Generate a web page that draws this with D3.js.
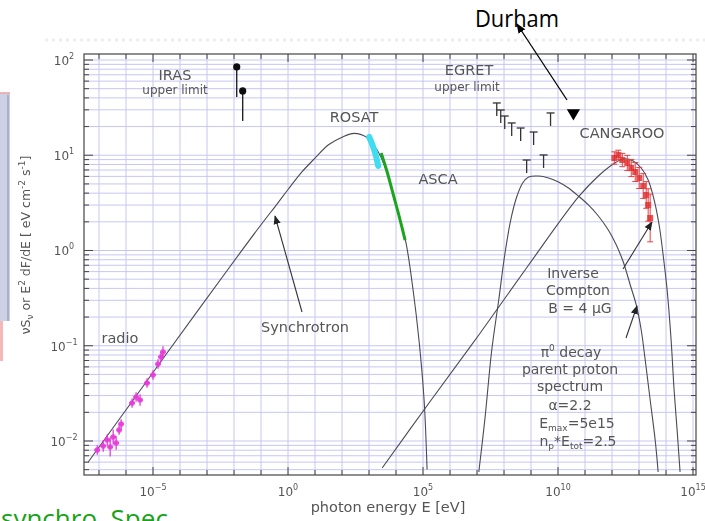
<!DOCTYPE html>
<html>
<head>
<meta charset="utf-8">
<script src="https://cdn.jsdelivr.net/npm/d3@7"></script>
<style>
  html, body { margin: 0; padding: 0; background: #fff; }
  svg { display: block; }
</style>
</head>
<body>
<svg id="chart" width="705" height="521"></svg>
<script>
// Broad-band spectrum of a supernova remnant.
// Energies are stored as log10(E / eV), fluxes as log10(E^2 dF/dE / eV cm^-2 s^-1).

const xTickExps = [-5, 0, 5, 10, 15];
const yTickExps = [-2, -1, 0, 1, 2];

// synchrotron model
const synchLogE = [-7.40, -6.03, -4.48, -2.16, -1.0, -0.4, 0.0, 0.5, 1.0, 1.5, 2.0, 2.45, 2.90, 3.30, 3.56, 3.86, 4.11, 4.37, 4.63, 4.85, 5.04, 5.15];
const synchLogF = [-2.22, -1.685, -1.076, -0.173, 0.27, 0.49, 0.64, 0.82, 0.97, 1.11, 1.19, 1.23, 1.19, 1.055, 0.90, 0.635, 0.37, 0.08, -0.41, -0.94, -1.57, -2.30];

// inverse Compton model (B = 4 uG)
const icLogE = [3.487, 5.221, 7.066, 8.911, 10.756, 11.494, 12.048, 12.417, 12.786, 13.081, 13.339, 13.561, 13.745, 13.893, 14.041, 14.188, 14.299, 14.410, 14.520];
const icLogF = [-2.283, -1.601, -0.887, -0.152, 0.562, 0.782, 0.908, 0.961, 0.940, 0.866, 0.740, 0.530, 0.268, -0.047, -0.415, -0.940, -1.465, -1.885, -2.325];

// pi0 decay model
const pionLogE = [7.066, 7.288, 7.546, 7.804, 8.026, 8.247, 8.469, 8.690, 8.911, 9.280, 9.649, 10.018, 10.387, 10.756, 11.125, 11.494, 11.863, 12.159, 12.417, 12.675, 12.897, 13.081, 13.229, 13.413, 13.598, 13.708];
const pionLogF = [-2.325, -1.780, -1.045, -0.520, -0.047, 0.320, 0.562, 0.709, 0.772, 0.782, 0.761, 0.719, 0.656, 0.572, 0.478, 0.362, 0.215, 0.058, -0.121, -0.362, -0.572, -0.835, -1.150, -1.570, -1.990, -2.325];

// radio measurements
const radioLogE = [-7.066, -6.845, -6.697, -6.587, -6.476, -6.365, -6.255, -6.181, -5.775, -5.627, -5.480, -5.221, -5.000, -4.815, -4.705, -4.631];
const radioLogF = [-2.094, -2.052, -1.990, -2.063, -1.958, -2.021, -1.885, -1.822, -1.601, -1.538, -1.570, -1.391, -1.307, -1.192, -1.118, -1.066];
const radioErr  = [0.05, 0.06, 0.06, 0.10, 0.08, 0.07, 0.05, 0.05, 0.05, 0.05, 0.06, 0.05, 0.05, 0.05, 0.05, 0.06];

// ROSAT and ASCA spectra
const rosatLogE = [3.007, 3.155, 3.266, 3.339];
const rosatLogF = [1.192, 1.087, 0.982, 0.887];
const ascaLogE = [3.450, 3.672, 3.893, 4.114, 4.336];
const ascaLogF = [1.024, 0.824, 0.593, 0.362, 0.110];

// IRAS upper limits
const irasLogE = [-1.900, -1.679];
const irasLogF = [1.927, 1.675];

// EGRET upper limits
const egretLogE = [7.731, 7.878, 8.026, 8.284, 8.616, 9.096, 9.723, 8.838, 9.465];
const egretLogF = [1.549, 1.475, 1.412, 1.339, 1.286, 1.244, 1.444, 0.950, 1.003];

// Durham upper limit
const durhamLogE = [10.57];
const durhamLogF = [1.444];

// CANGAROO TeV measurements
const cangLogE = [12.085, 12.232, 12.380, 12.565, 12.712, 12.860, 13.007, 13.155, 13.266, 13.339, 13.413];
const cangLogF = [0.971, 1.003, 0.950, 0.919, 0.866, 0.824, 0.761, 0.677, 0.583, 0.478, 0.341];
const cangErr  = [0.065, 0.05, 0.07, 0.08, 0.09, 0.10, 0.11, 0.13, 0.14, 0.17, 0.25];

const svg = d3.select("#chart");
const X0 = 84, X1 = 696, Y0 = 54, Y1 = 475;
const x = d3.scaleLog().domain([10 ** -7.556, 10 ** 15.11]).range([X0, X1]);
const y = d3.scaleLog().domain([10 ** -2.357, 10 ** 2.063]).range([Y1, Y0]);
const px = e => x(10 ** e);
const py = f => y(10 ** f);

const defs = svg.append("defs");
defs.append("filter").attr("id", "soft")
  .attr("x", "-5%").attr("y", "-5%").attr("width", "110%").attr("height", "110%")
  .append("feGaussianBlur").attr("stdDeviation", 0.55);
defs.append("clipPath").attr("id", "plotArea")
  .append("rect").attr("x", X0).attr("y", Y0).attr("width", X1 - X0).attr("height", Y1 - Y0);
function arrowMarker(id, color, size) {
  defs.append("marker").attr("id", id)
    .attr("viewBox", "0 0 10 10").attr("refX", 9).attr("refY", 5)
    .attr("markerWidth", size).attr("markerHeight", size)
    .attr("markerUnits", "userSpaceOnUse").attr("orient", "auto")
    .append("path").attr("d", "M0,1 L10,5 L0,9 Z").attr("fill", color);
}
arrowMarker("headGray", "#222", 9);
arrowMarker("headBlack", "#000", 10);

svg.append("rect").attr("width", 705).attr("height", 521).attr("fill", "#fff");

// sliver of a neighbouring figure on the left edge
svg.append("rect").attr("x", 0).attr("y", 93).attr("width", 10).attr("height", 228)
  .attr("fill", "#cdd1e6");
svg.append("line").attr("x1", 8).attr("x2", 8).attr("y1", 95).attr("y2", 321)
  .attr("stroke", "#8a8fa8").attr("stroke-width", 1);
svg.append("line").attr("x1", 0).attr("x2", 10).attr("y1", 93).attr("y2", 93)
  .attr("stroke", "#f0a0a0").attr("stroke-width", 1.5);
svg.append("rect").attr("x", 0).attr("y", 321).attr("width", 3).attr("height", 40)
  .attr("fill", "#f5b8b8");

const chart = svg.append("g").attr("filter", "url(#soft)");

// faint upper edge of the scanned plot
chart.append("line").attr("x1", 45).attr("x2", 705).attr("y1", 40).attr("y2", 40)
  .attr("stroke", "#eeeeee").attr("stroke-width", 3).attr("stroke-dasharray", "3 4");

// grid
const decades = d3.range(-7, 16);
const minorVals = [];
for (let e = -3; e <= 2; e++) for (let k = 1; k <= 9; k++) {
  const v = k * 10 ** e;
  if (v >= y.domain()[0] && v <= y.domain()[1]) minorVals.push({ v, major: k === 1 });
}
const grid = chart.append("g").attr("stroke", "#c6c6f4").attr("stroke-width", 1);
grid.selectAll("line.v").data(decades).join("line").attr("class", "v")
  .attr("x1", d => px(d)).attr("x2", d => px(d)).attr("y1", Y0).attr("y2", Y1);
grid.selectAll("line.h").data(minorVals).join("line").attr("class", "h")
  .attr("x1", X0).attr("x2", X1).attr("y1", d => y(d.v)).attr("y2", d => y(d.v));

// frame and ticks
chart.append("rect").attr("x", X0).attr("y", Y0).attr("width", X1 - X0).attr("height", Y1 - Y0)
  .attr("fill", "none").attr("stroke", "#444").attr("stroke-width", 1.2);
const ticks = chart.append("g").attr("stroke", "#444").attr("stroke-width", 1);
minorVals.forEach(d => {
  const L = d.major ? 9 : 5, yy = y(d.v);
  ticks.append("line").attr("x1", X0).attr("x2", X0 + L).attr("y1", yy).attr("y2", yy);
  ticks.append("line").attr("x1", X1).attr("x2", X1 - L).attr("y1", yy).attr("y2", yy);
});
decades.forEach(e => {
  const L = xTickExps.includes(e) ? 8 : 5, xx = px(e);
  ticks.append("line").attr("x1", xx).attr("x2", xx).attr("y1", Y1).attr("y2", Y1 - L);
  ticks.append("line").attr("x1", xx).attr("x2", xx).attr("y1", Y0).attr("y2", Y0 + L);
});

// tick labels
const tickFont = "'DejaVu Sans', sans-serif";
xTickExps.forEach(e => {
  const t = chart.append("text").attr("x", px(e)).attr("y", 496)
    .attr("text-anchor", "middle").attr("font-family", tickFont).attr("font-size", 12).attr("fill", "#555");
  t.append("tspan").text("10");
  t.append("tspan").attr("dy", -6).attr("font-size", 8).text(String(e).replace("-", "\u2212"));
});
yTickExps.forEach(e => {
  const t = chart.append("text").attr("x", 64).attr("y", py(e) + 5)
    .attr("text-anchor", "middle").attr("font-family", tickFont).attr("font-size", 12).attr("fill", "#555");
  t.append("tspan").text("10");
  t.append("tspan").attr("dy", -6).attr("font-size", 8).text(String(e).replace("-", "\u2212"));
});

// axis titles
const xt = chart.append("text").attr("x", 388).attr("y", 512).attr("text-anchor", "middle")
  .attr("font-family", tickFont).attr("font-size", 14.5).attr("fill", "#555");
xt.text("photon energy E [eV]");
const yt = chart.append("text").attr("transform", "translate(30,245) rotate(-90)")
  .attr("text-anchor", "middle").attr("font-family", tickFont).attr("font-size", 12.5).attr("fill", "#555");
yt.append("tspan").text("\u03bdS");
yt.append("tspan").attr("font-size", 9).attr("dy", 3).text("\u03bd");
yt.append("tspan").attr("dy", -3).text(" or E");
yt.append("tspan").attr("font-size", 9).attr("dy", -5).text("2");
yt.append("tspan").attr("dy", 5).text(" dF/dE [ eV cm");
yt.append("tspan").attr("font-size", 9).attr("dy", -5).text("-2");
yt.append("tspan").attr("dy", 5).text(" s");
yt.append("tspan").attr("font-size", 9).attr("dy", -5).text("-1");
yt.append("tspan").attr("dy", 5).text("]");

// model curves
const plot = chart.append("g").attr("clip-path", "url(#plotArea)");
const line = d3.line().x(d => px(d[0])).y(d => py(d[1])).curve(d3.curveCatmullRom.alpha(0.5));
const zip = (a, b) => a.map((v, i) => [v, b[i]]);
[[synchLogE, synchLogF], [icLogE, icLogF], [pionLogE, pionLogF]].forEach(([e, f]) => {
  plot.append("path").attr("d", line(zip(e, f)))
    .attr("fill", "none").attr("stroke", "#4a4a55").attr("stroke-width", 1.1);
});

// ROSAT and ASCA bands on the synchrotron cut-off
plot.append("path").attr("d", line(zip(rosatLogE, rosatLogF)))
  .attr("fill", "none").attr("stroke", "#3fdcef").attr("stroke-width", 6).attr("stroke-linecap", "round");
plot.append("path").attr("d", line(zip(ascaLogE, ascaLogF)))
  .attr("fill", "none").attr("stroke", "#1ea51e").attr("stroke-width", 3);

// radio points
const radio = plot.append("g");
radioLogE.forEach((e, i) => {
  const cx = px(e), f = radioLogF[i], err = radioErr[i];
  radio.append("line").attr("x1", cx).attr("x2", cx).attr("y1", py(f - err)).attr("y2", py(f + err))
    .attr("stroke", "#e030d8").attr("stroke-width", 1.2);
  radio.append("line").attr("x1", cx - 3).attr("x2", cx + 3).attr("y1", py(f)).attr("y2", py(f))
    .attr("stroke", "#e030d8").attr("stroke-width", 1.2);
  radio.append("circle").attr("cx", cx).attr("cy", py(f)).attr("r", 2.8)
    .attr("fill", "#e83ad8").attr("fill-opacity", 0.85);
});

// CANGAROO points
const cang = plot.append("g");
cangLogE.forEach((e, i) => {
  const cx = px(e), f = cangLogF[i], err = cangErr[i];
  cang.append("line").attr("x1", cx).attr("x2", cx).attr("y1", py(f - err)).attr("y2", py(f + err))
    .attr("stroke", "#e84040").attr("stroke-width", 1);
  [f - err, f + err].forEach(v => cang.append("line").attr("x1", cx - 3).attr("x2", cx + 3)
    .attr("y1", py(v)).attr("y2", py(v)).attr("stroke", "#e84040").attr("stroke-width", 1));
  cang.append("rect").attr("x", cx - 3).attr("y", py(f) - 3).attr("width", 6).attr("height", 6)
    .attr("fill", "#e02828").attr("fill-opacity", 0.8);
});

// IRAS upper limits
irasLogE.forEach((e, i) => {
  const cx = px(e), cy = py(irasLogF[i]);
  plot.append("line").attr("x1", cx).attr("x2", cx).attr("y1", cy).attr("y2", cy + 30)
    .attr("stroke", "#222").attr("stroke-width", 1.4);
  plot.append("circle").attr("cx", cx).attr("cy", cy).attr("r", 3.6).attr("fill", "#111");
});

// EGRET upper limits
egretLogE.forEach((e, i) => {
  const cx = px(e), cy = py(egretLogF[i]);
  plot.append("line").attr("x1", cx - 4).attr("x2", cx + 4).attr("y1", cy).attr("y2", cy)
    .attr("stroke", "#333").attr("stroke-width", 1.3);
  plot.append("line").attr("x1", cx).attr("x2", cx).attr("y1", cy).attr("y2", cy + 13)
    .attr("stroke", "#333").attr("stroke-width", 1.3);
});

// label text
const labFont = "'DejaVu Sans', sans-serif";
function label(txt, cx, by, size) {
  return chart.append("text").attr("x", cx).attr("y", by).attr("text-anchor", "middle")
    .attr("font-family", labFont).attr("font-size", size).attr("fill", "#555").text(txt);
}
label("IRAS", 175, 80, 14.5);
label("upper limit", 175, 94, 12);
label("EGRET", 469, 75, 14.5);
label("upper limit", 467, 91, 12);
label("ROSAT", 354, 122, 14.5);
label("ASCA", 438, 184, 14.5);
label("CANGAROO", 622, 138, 14.5);
label("radio", 120, 343, 14.5);
label("Synchrotron", 305, 332, 14.5);
label("Inverse", 573, 278, 14);
label("Compton", 578, 295, 14);
label("B = 4 \u03bcG", 580, 313, 14);
const pi = chart.append("text").attr("x", 571).attr("y", 357).attr("text-anchor", "middle")
  .attr("font-family", labFont).attr("font-size", 14).attr("fill", "#555");
pi.append("tspan").text("\u03c0");
pi.append("tspan").attr("dy", -6).attr("font-size", 9).text("0");
pi.append("tspan").attr("dy", 6).text(" decay");
label("parent proton", 570, 374, 14);
label("spectrum", 570, 391, 14);
label("\u03b1=2.2", 570, 410, 14);
const em = chart.append("text").attr("x", 577).attr("y", 428).attr("text-anchor", "middle")
  .attr("font-family", labFont).attr("font-size", 14).attr("fill", "#555");
em.append("tspan").text("E");
em.append("tspan").attr("dy", 3).attr("font-size", 9).text("max");
em.append("tspan").attr("dy", -3).text("=5e15");
const np = chart.append("text").attr("x", 578).attr("y", 446).attr("text-anchor", "middle")
  .attr("font-family", labFont).attr("font-size", 14).attr("fill", "#555");
np.append("tspan").text("n");
np.append("tspan").attr("dy", 3).attr("font-size", 9).text("p");
np.append("tspan").attr("dy", -3).text("*E");
np.append("tspan").attr("dy", 3).attr("font-size", 9).text("tot");
np.append("tspan").attr("dy", -3).text("=2.5");

// label pointers
function pointer(x1, y1, x2, y2) {
  chart.append("line").attr("x1", x1).attr("y1", y1).attr("x2", x2).attr("y2", y2)
    .attr("stroke", "#333").attr("stroke-width", 1.1).attr("marker-end", "url(#headGray)");
}
pointer(302, 312, 275, 216);
pointer(623, 269, 652, 222);
pointer(626, 338, 637, 306);

// Durham upper limit and its annotation (drawn sharp, on top)
svg.selectAll("path.durham").data(durhamLogE).join("path").attr("class", "durham")
  .attr("d", d3.symbol().type(d3.symbolTriangle).size(75))
  .attr("transform", (d, i) => `translate(${px(d)},${py(durhamLogF[i])}) rotate(180)`)
  .attr("fill", "#000");
svg.append("line").attr("x1", 567).attr("y1", 100).attr("x2", 517).attr("y2", 24)
  .attr("stroke", "#000").attr("stroke-width", 1.3).attr("marker-end", "url(#headBlack)");
svg.append("text").attr("x", 475).attr("y", 27)
  .attr("font-family", "'Open Sans', sans-serif").attr("font-size", 24).attr("fill", "#000")
  .attr("textLength", 84).attr("lengthAdjust", "spacingAndGlyphs")
  .text("Durham");
svg.append("text").attr("x", 1).attr("y", 528)
  .attr("font-family", "'Open Sans', sans-serif").attr("font-size", 26).attr("fill", "#17a317")
  .text("synchro. Spec");
</script>
</body>
</html>
